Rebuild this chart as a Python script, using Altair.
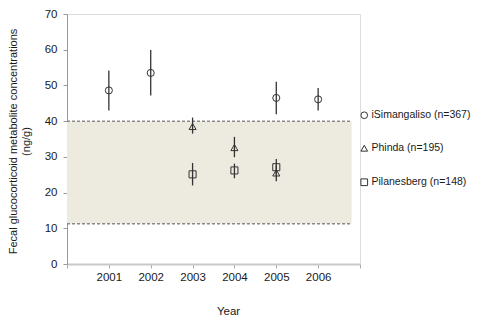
import altair as alt
import pandas as pd

# ---- data ----
sites = ["iSimangaliso (n=367)", "Phinda (n=195)", "Pilanesberg (n=148)"]
site_shapes = ["circle", "triangle-up", "square"]

isim_years = [2001, 2002, 2005, 2006]
isim_mean = [48.6, 53.5, 46.5, 46.1]
isim_lo = [43.0, 47.2, 41.9, 43.0]
isim_hi = [54.2, 59.9, 51.0, 49.3]

phinda_years = [2003, 2004, 2005]
phinda_mean = [38.5, 32.6, 25.5]
phinda_lo = [36.5, 29.9, 23.2]
phinda_hi = [41.0, 35.6, 27.6]

pilan_years = [2003, 2004, 2005]
pilan_mean = [25.1, 26.2, 27.1]
pilan_lo = [22.0, 24.0, 25.0]
pilan_hi = [28.3, 28.1, 29.4]

band_low = 11.3
band_high = 40
band_x = [2000, 2006.8]

x_ticks = [2000, 2001, 2002, 2003, 2004, 2005, 2006, 2007]
y_ticks = [0, 10, 20, 30, 40, 50, 60, 70]

rows = []
for site, yrs, m, lo, hi in [
    (sites[0], isim_years, isim_mean, isim_lo, isim_hi),
    (sites[1], phinda_years, phinda_mean, phinda_lo, phinda_hi),
    (sites[2], pilan_years, pilan_mean, pilan_lo, pilan_hi),
]:
    for i in range(len(yrs)):
        rows.append({"site": site, "year": yrs[i], "mean": m[i], "lo": lo[i], "hi": hi[i]})
df = pd.DataFrame(rows)

band_df = pd.DataFrame({"x0": [band_x[0]], "x1": [band_x[1]], "y0": [band_low], "y1": [band_high]})
lines_df = pd.DataFrame({"x0": [band_x[0], band_x[0]], "x1": [band_x[1], band_x[1]], "y": [band_high, band_low]})

FONT = "Liberation Sans"

x_scale = alt.Scale(domain=[2000, 2007], nice=False, zero=False)
y_scale = alt.Scale(domain=[0, 70], nice=False)

x_axis = alt.Axis(
    title="Year", values=x_ticks, format="d",
    labelExpr="datum.value >= 2001 && datum.value <= 2006 ? datum.label : ''",
    grid=False, domainColor="#c8c8c8", domainWidth=2, tickColor="#aaaaaa", tickSize=4,
    labelPadding=3, labelFontSize=11.5, labelColor="#1a1a1a", labelFont=FONT,
    titleFont=FONT, titleFontSize=11.5, titleFontWeight="normal", titleColor="#1a1a1a",
    titleX=161, titleY=50, titleAlign="center", titleBaseline="alphabetic",
)
y_axis = alt.Axis(
    title=["Fecal glucocorticoid metabolite concentrations", "(ng/g)"],
    values=y_ticks, grid=False, domainColor="#999999", tickColor="#999999", tickSize=4,
    labelPadding=6, labelFontSize=11.5, labelColor="#1a1a1a", labelFont=FONT,
    titleFont=FONT, titleFontSize=11, titleFontWeight="normal", titleColor="#1a1a1a",
    titleAngle=270, titleX=-60, titleY=127, titleAlign="center", titleBaseline="top",
    titleLineHeight=13,
)

band = alt.Chart(band_df).mark_rect(fill="#EDEAE0").encode(
    x=alt.X("x0:Q", scale=x_scale, axis=x_axis),
    x2="x1:Q",
    y=alt.Y("y0:Q", scale=y_scale, axis=y_axis),
    y2="y1:Q",
)

dash = alt.Chart(lines_df).mark_rule(color="#8a8a8a", strokeDash=[3, 2], strokeWidth=1.5).encode(
    x=alt.X("x0:Q", scale=x_scale, axis=x_axis),
    x2="x1:Q",
    y=alt.Y("y:Q", scale=y_scale, axis=y_axis),
)

err = alt.Chart(df).mark_rule(color="#333333", strokeWidth=1.3).encode(
    x=alt.X("year:Q", scale=x_scale, axis=x_axis),
    y=alt.Y("lo:Q", scale=y_scale, axis=y_axis),
    y2="hi:Q",
)

pts = alt.Chart(df).mark_point(filled=False, size=50, strokeWidth=1, color="#333333", opacity=1).encode(
    x=alt.X("year:Q", scale=x_scale, axis=x_axis),
    y=alt.Y("mean:Q", scale=y_scale, axis=y_axis),
    shape=alt.Shape(
        "site:N",
        scale=alt.Scale(domain=sites, range=site_shapes),
        legend=alt.Legend(
            title=None, orient="none", legendX=292, legendY=96, padding=0,
            rowPadding=22, labelOffset=2, symbolSize=45, symbolStrokeWidth=1,
            symbolStrokeColor="#333333", symbolFillColor="transparent",
            labelFont=FONT, labelFontSize=10.5, labelColor="#1a1a1a",
        ),
    ),
)

chart = alt.layer(band, dash, err, pts).properties(
    width=293, height=250,
    autosize=alt.AutoSizeParams(type="none"),
    padding={"left": 59, "top": 6, "right": 116, "bottom": 51},
).configure_view(stroke=None).configure(background="white")

chart.save("out.html", embed_options={"renderer": "svg", "actions": False})
